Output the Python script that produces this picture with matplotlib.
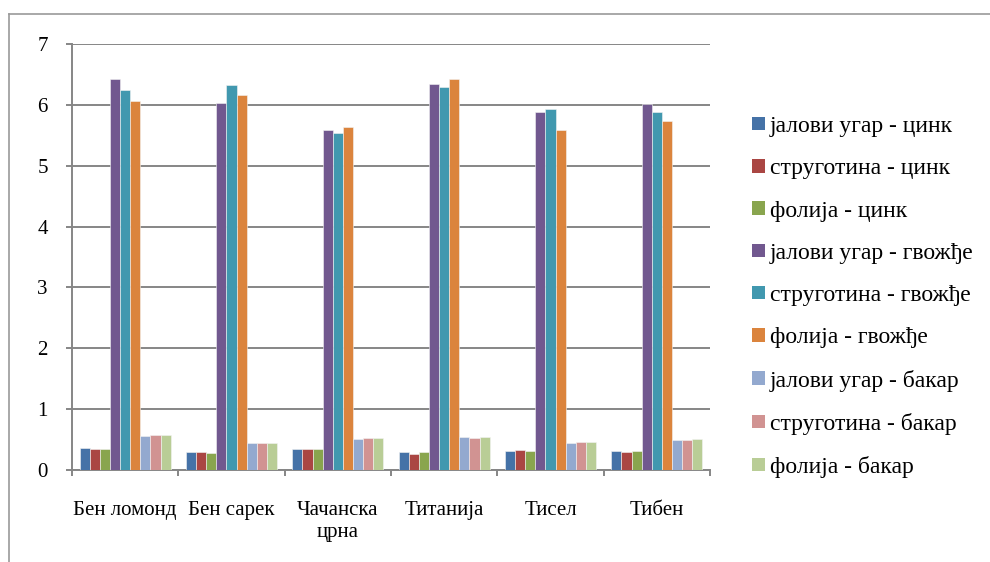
import matplotlib.pyplot as plt
from matplotlib.lines import Line2D
from matplotlib.patches import Patch
import numpy as np

plt.rcParams["font.family"] = ["Liberation Serif", "DejaVu Serif"]

# sorts
categories = ["Бен ломонд", "Бен сарек", "Чачанска\nцрна", "Титанија", "Тисел", "Тибен"]

series_labels = [
    "јалови угар - цинк",
    "струготина - цинк",
    "фолија - цинк",
    "јалови угар - гвожђе",
    "струготина - гвожђе",
    "фолија - гвожђе",
    "јалови угар - бакар",
    "струготина - бакар",
    "фолија - бакар",
]

jalovi_cink = [0.36, 0.29, 0.35, 0.29, 0.32, 0.31]
strug_cink = [0.35, 0.29, 0.35, 0.27, 0.33, 0.30]
folija_cink = [0.35, 0.28, 0.35, 0.29, 0.31, 0.31]
jalovi_gvozdje = [6.43, 6.03, 5.58, 6.34, 5.89, 6.02]
strug_gvozdje = [6.24, 6.33, 5.53, 6.30, 5.94, 5.88]
folija_gvozdje = [6.07, 6.17, 5.63, 6.43, 5.59, 5.73]
jalovi_bakar = [0.56, 0.44, 0.51, 0.55, 0.44, 0.50]
strug_bakar = [0.57, 0.45, 0.52, 0.53, 0.46, 0.50]
folija_bakar = [0.57, 0.45, 0.53, 0.54, 0.46, 0.51]

series_values = [
    jalovi_cink, strug_cink, folija_cink,
    jalovi_gvozdje, strug_gvozdje, folija_gvozdje,
    jalovi_bakar, strug_bakar, folija_bakar,
]

colors = [
    "#4572A7", "#AA4643", "#89A54E",
    "#71588F", "#4198AF", "#DB843D",
    "#93A9CF", "#D19392", "#B9CD96",
]

grid_color = "#868686"

fig = plt.figure(figsize=(9.9, 5.62), dpi=100)
W, H = 990, 562
ax = fig.add_axes([72 / W, 1 - 470 / H, (710 - 72) / W, (470 - 44) / H])

n = len(series_values)
x = np.arange(len(categories))
width = 1 / (n + 1.5)
for j, (vals, c, lab) in enumerate(zip(series_values, colors, series_labels)):
    ax.bar(x + (j - (n - 1) / 2) * width, vals, width, color=c,
           edgecolor="#f4f4f4", linewidth=0.4, label=lab, zorder=3)

ax.set_xlim(-0.5, len(categories) - 0.5)
ax.set_ylim(0, 7)
ax.set_yticks(range(0, 8))
ax.yaxis.grid(True, color=grid_color, linewidth=1.4, zorder=0)
ax.set_axisbelow(True)

for s in ["top", "right"]:
    ax.spines[s].set_visible(False)
for s in ["left", "bottom"]:
    ax.spines[s].set_color(grid_color)
    ax.spines[s].set_linewidth(1.4)

ax.tick_params(axis="y", length=4.5, width=1.4, color=grid_color,
               labelsize=15, pad=13)
ax.set_xticks(x)
ax.set_xticklabels(categories, fontsize=15, linespacing=1.25)
ax.tick_params(axis="x", which="major", length=0, pad=22)
ax.set_xticks(np.arange(-0.5, len(categories)), minor=True)
ax.tick_params(axis="x", which="minor", length=4, width=1.4, color=grid_color)

handles = [Patch(facecolor=c, edgecolor="none") for c in colors]
fig.legend(handles, series_labels, loc="center left",
           bbox_to_anchor=(743 / W, 1 - 297 / H), frameon=False,
           fontsize=17, handlelength=0.55, handleheight=0.5,
           handletextpad=0.2, labelspacing=0.9, borderaxespad=0)

# chart area border
fig.add_artist(Line2D([9 / W, 9 / W], [0, 1 - 14 / H], color="#9a9a9a", lw=1.2))
fig.add_artist(Line2D([9 / W, 1], [1 - 14 / H, 1 - 14 / H], color="#9a9a9a", lw=1.2))

fig.savefig("out.png", dpi=100)
